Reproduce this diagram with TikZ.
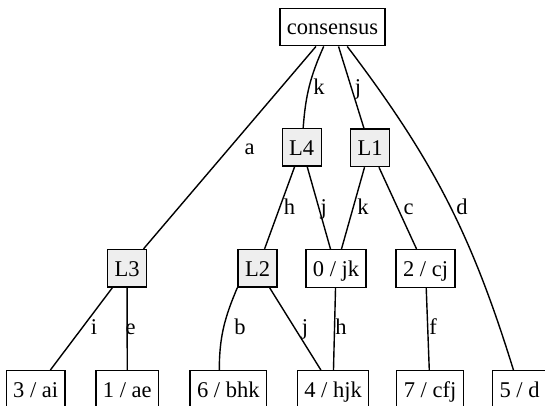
\documentclass[tikz,border=0pt]{standalone}
\usepackage{fontspec}
\setmainfont{Liberation Serif}
\newfontfamily\timesfont{Liberation Serif}
\usepackage{tikz}
\definecolor{lgray}{HTML}{EEEEEE}
\tikzset{
  nd/.style={draw, line width=1.4pt, minimum height=37.5pt, inner xsep=7pt, inner ysep=0pt, text height=18pt, text depth=2.6pt},
  grp/.style={nd, fill=lgray},
  edge/.style={line width=1.4pt},
  lbl/.style={inner sep=0pt, anchor=base},
}

\begin{document}
\begin{tikzpicture}[x=1pt, y=1pt, font=\timesfont\fontsize{22.5}{27}\selectfont]
  \useasboundingbox (0,0) rectangle (545,-406);
  % tree nodes
  \node[nd] (consensus) at (332.5,-27) {consensus};
  \node[grp] (L4) at (301.7,-147.3) {L4};
  \node[grp] (L1) at (370,-147.8) {L1};
  \node[grp] (L3) at (127,-268.3) {L3};
  \node[grp] (L2) at (257.5,-268.3) {L2};
  \node[nd] (jk0) at (336,-268.5) {0 / jk};
  \node[nd] (cj2) at (425.5,-268.5) {2 / cj};
  \foreach \nm/\x/\tx in {ai3/35.7/{3 / ai}, ae1/127.3/{1 / ae}, bhk6/228.3/{6 / bhk}, hjk4/333/{4 / hjk}, cfj7/430/{7 / cfj}, d5/519.5/{5 / d}}
    \node[nd] (\nm) at (\x,-389.5) {\tx};
  % straight edges with their labels
  \foreach \a/\b/\t/\lx/\ly in {consensus/L3/a/249.5/154, consensus/L1/j/358/94.3, L4/L2/h/289.5/214.3, L4/jk0/j/323.7/214.3, L1/jk0/k/363/214.3, L1/cj2/c/408.5/214.3, L3/ai3/i/94/334.5, L3/ae1/e/130.7/334.5, L2/hjk4/j/305/334.5, jk0/hjk4/h/341/334.5, cj2/cfj7/f/433/334.5}
    \draw[edge] (\a) -- (\b) node[lbl] at (\lx,-\ly) {\t};
  % curved edges
  \draw[edge] (consensus) to[bend right=10] (L4) node[lbl] at (319,-94.3) {k};
  \draw[edge] (consensus) to[bend left=10] (d5) node[lbl] at (462,-214.3) {d};
  \draw[edge] (L2.south west) to[out=-113, in=90] ([xshift=-9pt]bhk6.north) node[lbl] at (240,-334.5) {b};
\end{tikzpicture}
\end{document}
